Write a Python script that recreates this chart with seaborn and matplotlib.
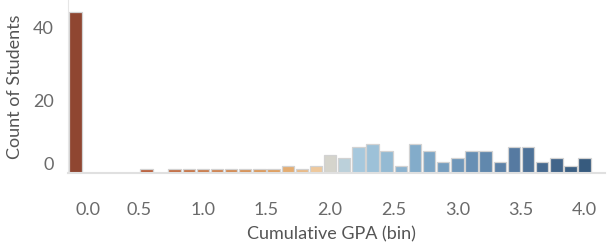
import numpy as np
import pandas as pd
import matplotlib
matplotlib.use("Agg")
import matplotlib.pyplot as plt
from matplotlib.colors import LinearSegmentedColormap
import seaborn as sns

# bins are 1/9 wide, 0.0 .. 4.0
gpa_bin = [round(k / 9, 3) for k in range(37)]
students = [44, 0, 0, 0, 0, 1, 0, 1, 1, 1, 1, 1, 1, 1, 1, 2, 1, 2,
            5, 4, 7, 8, 6, 2, 8, 6, 3, 4, 6, 6, 3, 7, 7, 3, 4, 2, 4]
xticks = [0.0, 0.5, 1.0, 1.5, 2.0, 2.5, 3.0, 3.5, 4.0]
yticks = [0, 20, 40]

# orange-blue diverging, centred on 2.0
cmap = LinearSegmentedColormap.from_list("ob", [
    (0.0, "#9e3d22"), (0.14, "#d0592a"), (0.39, "#f5a04a"), (0.47, "#fcc98d"),
    (0.5, "#d9d5c9"), (0.53, "#b5d2e0"), (0.556, "#9dcae6"), (0.667, "#77aed6"),
    (0.778, "#5b90c1"), (0.86, "#4a7aae"), (0.917, "#3b6a9c"), (1.0, "#2b5b8a")])

df = pd.DataFrame({"gpa": gpa_bin, "count": students})
pal = {v: cmap(v / 4) for v in gpa_bin}

sns.set_style("white")
plt.rcParams["font.family"] = ["Lato", "DejaVu Sans"]

fig = plt.figure(figsize=(6.13, 2.5), dpi=100)
ax = fig.add_axes([68 / 613, 1 - 173 / 250, (605 - 68) / 613, 173 / 250])

sns.barplot(data=df, x="gpa", y="count", hue="gpa", palette=pal, native_scale=True,
            width=0.88, edgecolor="#d2d2d2", linewidth=0.9, legend=False, ax=ax)

ax.set_xlim(-0.06, 4.16)
ax.set_ylim(0, 47.4)
ax.set_xticks(xticks)
ax.set_xticklabels([f"{t:.1f}" for t in xticks])
ax.set_yticks(yticks)
ax.tick_params(length=0, labelsize=13, labelcolor="#6a6a6a")
ax.tick_params(axis="x", pad=21)
ax.tick_params(axis="y", pad=10)
ax.get_xticklabels()[0].set_horizontalalignment("left")
ax.get_yticklabels()[0].set_verticalalignment("bottom")

for s in ["top", "right"]:
    ax.spines[s].set_visible(False)
ax.spines["left"].set_color("#e6e6e6")
ax.spines["bottom"].set_color("#e0e0e0")
ax.spines["bottom"].set_linewidth(1.5)

ax.set_xlabel("Cumulative GPA (bin)", fontsize=13, color="#555555")
ax.set_ylabel("Count of Students", fontsize=13, color="#555555")
ax.xaxis.set_label_coords((331 - 68) / 537, -(226 - 173) / 173)
ax.yaxis.set_label_coords((23 - 68) / 537, 0.5)

fig.savefig("out.png", dpi=100)
